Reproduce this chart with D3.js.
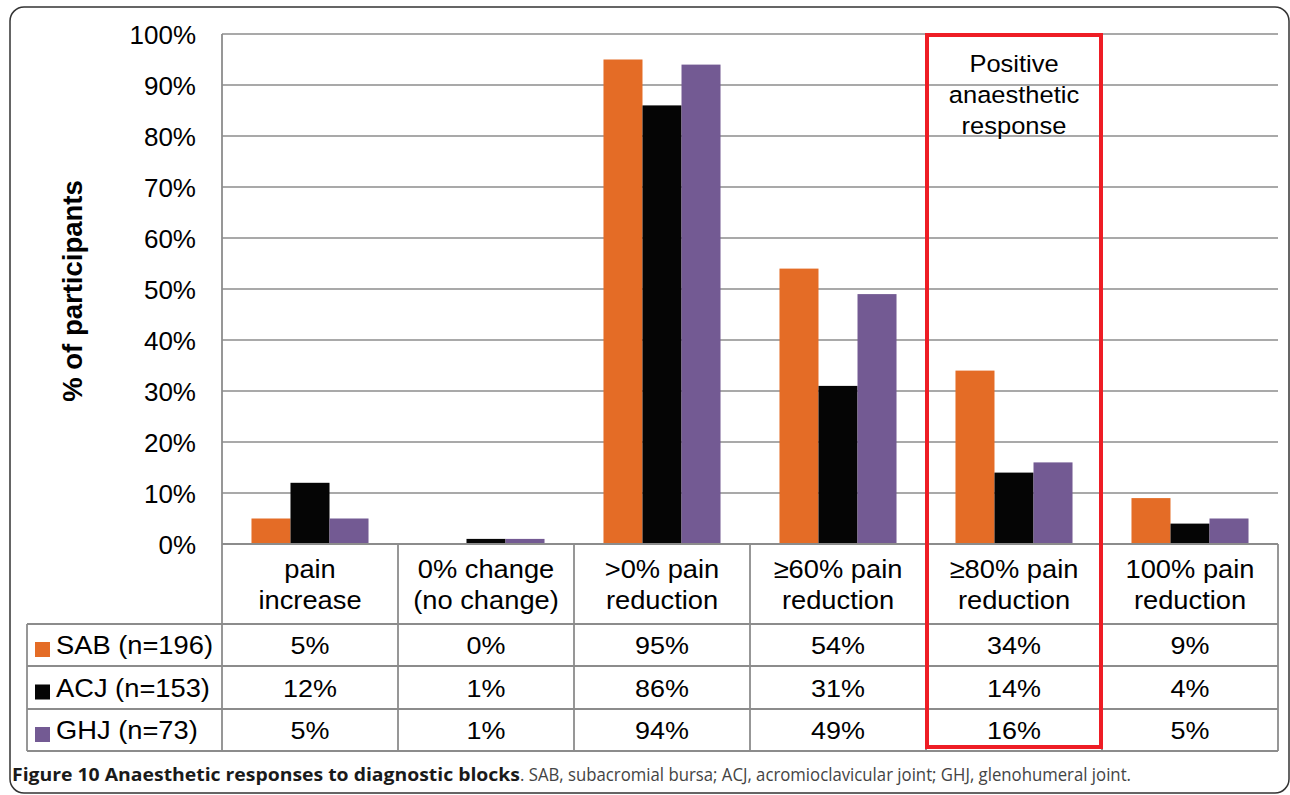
<!DOCTYPE html>
<html><head><meta charset="utf-8">
<script src="https://cdn.jsdelivr.net/npm/d3@7"></script>
<style>html,body{margin:0;padding:0;background:#fff;}svg{display:block;}</style>
</head><body>
<svg id="c" width="1290" height="795"></svg>
<script>
const categories = [["pain","increase"],["0% change","(no change)"],[">0% pain","reduction"],["≥60% pain","reduction"],["≥80% pain","reduction"],["100% pain","reduction"]];
const seriesNames = ["SAB (n=196)","ACJ (n=153)","GHJ (n=73)"];
const sab = [5,0,95,54,34,9];
const acj = [12,1,86,31,14,4];
const ghj = [5,1,94,49,16,5];
const yTicks = [0,10,20,30,40,50,60,70,80,90,100];
const highlightLabel = ["Positive","anaesthetic","response"];
const highlightIndex = 4;
const captionBold = "Figure 10 Anaesthetic responses to diagnostic blocks";
const captionRest = ". SAB, subacromial bursa; ACJ, acromioclavicular joint; GHJ, glenohumeral joint.";

const series = [sab, acj, ghj];
const colors = ["#E46C26","#050505","#735A93"];
const svg = d3.select("#c");
const F = "'Liberation Sans', Arial, sans-serif";
const L = 222, R = 1278, T = 34, B = 544;
const rowY = [544, 624, 666, 709, 751];
const legendX = 27;
const grid = "#8c8c8c";

function stext(g, x, y, txt, size, sx, anchor, weight){
  return g.append("text").attr("transform",`translate(${x},${y}) scale(${sx},1)`)
    .attr("text-anchor",anchor||"middle").attr("font-family",F).attr("font-size",size)
    .attr("font-weight",weight||"normal").attr("fill","#000").text(txt);
}

// outer frame
svg.append("rect").attr("x",10).attr("y",7).attr("width",1279).attr("height",786)
  .attr("rx",14).attr("fill","none").attr("stroke","#333").attr("stroke-width",1.5);

const x = d3.scaleBand().domain(d3.range(categories.length)).range([L,R]);
const y = d3.scaleLinear().domain([0,100]).range([B,T]);
const inner = d3.scaleBand().domain(d3.range(series.length)).range([0, x.bandwidth()*0.665]);
const off = (x.bandwidth() - x.bandwidth()*0.665)/2;

// gridlines
svg.append("g").selectAll("line").data(yTicks.filter(d=>d>0)).join("line")
  .attr("x1",L).attr("x2",R).attr("y1",d=>y(d)).attr("y2",d=>y(d))
  .attr("stroke",grid).attr("stroke-width",1.6);

// y tick labels
svg.append("g").selectAll("text").data(yTicks).join("text")
  .attr("x",196).attr("y",d=>y(d)+9.5).attr("text-anchor","end")
  .attr("font-family",F).attr("font-size",26).attr("fill","#000")
  .text(d=>d+"%");

// y title
svg.append("text").attr("transform","translate(82,291) rotate(-90)")
  .attr("text-anchor","middle").attr("font-family",F).attr("font-size",27.5)
  .attr("font-weight","bold").text("% of participants");

// bars
series.forEach((s,si)=>{
  svg.append("g").selectAll("rect").data(s).join("rect")
    .attr("x",(d,i)=>x(i)+off+inner(si)).attr("width",inner.bandwidth())
    .attr("y",d=>y(d)).attr("height",d=>B-y(d)).attr("fill",colors[si]);
});

// table lines
const tl = svg.append("g").attr("stroke",grid).attr("stroke-width",1.8);
tl.append("line").attr("x1",L).attr("x2",R).attr("y1",B).attr("y2",B);
rowY.slice(1).forEach(yy=>tl.append("line").attr("x1",legendX).attr("x2",R).attr("y1",yy).attr("y2",yy));
tl.append("line").attr("x1",L).attr("x2",L).attr("y1",T).attr("y2",rowY[4]);
tl.append("line").attr("x1",legendX).attr("x2",legendX).attr("y1",rowY[1]).attr("y2",rowY[4]);
d3.range(1,categories.length+1).forEach(i=>{
  const xx = i<categories.length ? x(i) : R;
  tl.append("line").attr("x1",xx).attr("x2",xx).attr("y1",B).attr("y2",rowY[4]);
});

// category labels
categories.forEach((c,i)=>{
  c.forEach((line,li)=>{
    stext(svg, x(i)+x.bandwidth()/2, 578+li*31, line, 26.5, 1.03);
  });
});

// data rows
series.forEach((s,si)=>{
  const cy = (rowY[si+1]+rowY[si+2])/2;
  svg.append("rect").attr("x",35).attr("y",cy-3).attr("width",15).attr("height",15).attr("fill",colors[si]);
  stext(svg, 56, cy+9, seriesNames[si], 26, 1.05, "start");
  s.forEach((d,i)=>{
    stext(svg, x(i)+x.bandwidth()/2, cy+9, d+"%", 24.5, 1.1);
  });
});

// highlight box
svg.append("rect").attr("x",x(highlightIndex)+1).attr("y",35).attr("width",x.bandwidth()-2).attr("height",712)
  .attr("fill","none").attr("stroke","#EE1D25").attr("stroke-width",4);
highlightLabel.forEach((t,i)=>{
  stext(svg, x(highlightIndex)+x.bandwidth()/2, 72+i*31, t, 24.5, 1.04);
});

// caption
const CF = "'Open Sans', 'Noto Sans', sans-serif";
const cap1 = svg.append("text").attr("x",12).attr("y",781).attr("font-family",CF)
  .attr("font-size",18.5).attr("font-weight","bold").attr("fill","#1a1a1a").text(captionBold)
  .attr("textLength",508).attr("lengthAdjust","spacingAndGlyphs");
const cap2 = svg.append("text").attr("x",520).attr("y",781).attr("font-family",CF)
  .attr("font-size",18.5).attr("fill","#444").text(captionRest)
  .attr("textLength",611).attr("lengthAdjust","spacingAndGlyphs");
</script>
</body></html>
